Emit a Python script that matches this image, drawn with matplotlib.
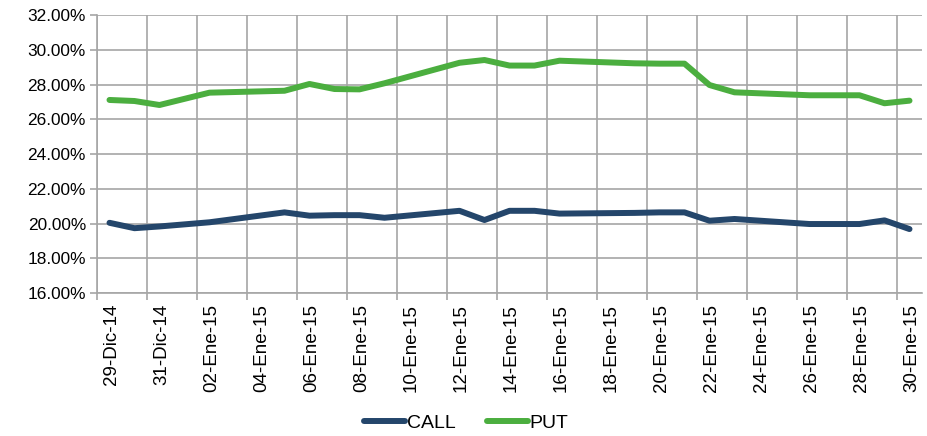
import matplotlib.pyplot as plt
import numpy as np
import pandas as pd

plt.rcParams["font.family"] = ["Liberation Sans", "DejaVu Sans"]

# trading days shown in the chart
dates = [
    "2014-12-29", "2014-12-30", "2014-12-31", "2015-01-02",
    "2015-01-05", "2015-01-06", "2015-01-07", "2015-01-08", "2015-01-09",
    "2015-01-12", "2015-01-13", "2015-01-14", "2015-01-15", "2015-01-16",
    "2015-01-19", "2015-01-20", "2015-01-21", "2015-01-22", "2015-01-23",
    "2015-01-26", "2015-01-27", "2015-01-28", "2015-01-29", "2015-01-30",
]
call_vol = [
    20.04, 19.73, 19.83, 20.07,
    20.64, 20.45, 20.48, 20.48, 20.33,
    20.73, 20.20, 20.73, 20.73, 20.57,
    20.61, 20.64, 20.64, 20.16, 20.26,
    19.97, 19.97, 19.97, 20.18, 19.68,
]
put_vol = [
    27.11, 27.05, 26.82, 27.53,
    27.64, 28.03, 27.74, 27.72, 28.07,
    29.25, 29.41, 29.09, 29.09, 29.37,
    29.22, 29.20, 29.20, 27.97, 27.55,
    27.38, 27.38, 27.38, 26.92, 27.07,
]
tick_dates = pd.date_range("2014-12-29", "2015-01-30", freq="2D")
tick_labels = [
    "29-Dic-14", "31-Dic-14", "02-Ene-15", "04-Ene-15", "06-Ene-15",
    "08-Ene-15", "10-Ene-15", "12-Ene-15", "14-Ene-15", "16-Ene-15",
    "18-Ene-15", "20-Ene-15", "22-Ene-15", "24-Ene-15", "26-Ene-15",
    "28-Ene-15", "30-Ene-15",
]
y_ticks = np.arange(16, 32.1, 2)

call_color = "#24466B"
put_color = "#4BAE3F"
grid_color = "#A6A6A6"

# each day is a slot, points sit in the middle of the slot
x = pd.to_datetime(dates) + pd.Timedelta(hours=12)

fig = plt.figure(figsize=(9.27, 4.36), dpi=100)
ax = fig.add_axes([97 / 927, 1 - 293 / 436, 825 / 927, 278 / 436])

ax.plot(x, call_vol, color=call_color, lw=4.3, solid_capstyle="round",
        solid_joinstyle="round", label="CALL", zorder=3)
ax.plot(x, put_vol, color=put_color, lw=4.3, solid_capstyle="round",
        solid_joinstyle="round", label="PUT", zorder=3)

ax.set_xlim(pd.Timestamp("2014-12-29"), pd.Timestamp("2015-01-31"))
ax.set_ylim(16, 32)

# gridlines at slot boundaries, labels in slot middles
ax.set_xticks(tick_dates)
ax.set_xticklabels([])
ax.set_xticks(tick_dates + pd.Timedelta(hours=14), minor=True)
ax.set_xticklabels(tick_labels, minor=True, rotation=90, fontsize=13.5)
ax.tick_params(axis="x", which="major", direction="out", length=5,
               color=grid_color, width=1.2)
ax.tick_params(axis="x", which="minor", length=0, pad=8)

ax.set_yticks(y_ticks)
ax.set_yticklabels([f"{v:.2f}%" for v in y_ticks], fontsize=12.4)
ax.tick_params(axis="y", direction="out", length=5, color=grid_color,
               width=1.2, pad=3)

ax.grid(True, which="major", color=grid_color, lw=1.2)
ax.set_axisbelow(True)
for side in ["top", "right"]:
    ax.spines[side].set_visible(False)
for side in ["left", "bottom"]:
    ax.spines[side].set_color(grid_color)
    ax.spines[side].set_linewidth(1.2)

fig.legend(loc="center", bbox_to_anchor=(0.503, 1 - 423 / 436),
           ncol=2, frameon=False, fontsize=14, handlelength=2.1,
           handletextpad=0.1, columnspacing=1.6)

fig.savefig("out.png", dpi=100)
